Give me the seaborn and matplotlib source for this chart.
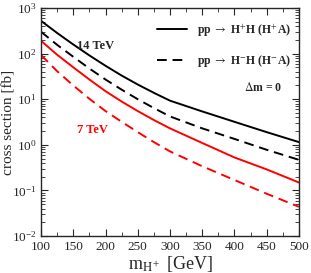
import numpy as np
import pandas as pd
import matplotlib
matplotlib.use("Agg")
import matplotlib.pyplot as plt
import seaborn as sns
from matplotlib.lines import Line2D
from matplotlib.ticker import LogLocator, MultipleLocator, NullFormatter

# ---------------------
# Data
# ---------------------
mass = [100, 125, 150, 175, 200, 225, 250, 275, 300, 350, 400, 450, 500]
xs_14_plus = [520, 282, 158, 91, 54, 33, 21, 13.8, 9.3, 5.4, 3.2, 1.9, 1.15]
xs_14_minus = [300, 155, 85, 47, 27, 16.2, 10, 6.4, 4.2, 2.3, 1.35, 0.78, 0.47]
xs_7_plus = [190, 94, 50, 27, 15, 8.9, 5.5, 3.5, 2.3, 1.1, 0.53, 0.29, 0.15]
xs_7_minus = [93, 41, 20, 10.2, 5.5, 3.2, 1.9, 1.15, 0.72, 0.34, 0.17, 0.085, 0.044]

sns.set_style("ticks")
plt.rcParams["font.family"] = ["Liberation Serif", "DejaVu Serif"]
plt.rcParams["mathtext.fontset"] = "stix"

fig = plt.figure(figsize=(3.11, 2.73), dpi=100)
ax = fig.add_axes([0.132, 0.135, 0.829, 0.836])

series = [
    (xs_14_plus, "black", "-"),
    (xs_14_minus, "black", (0, (5, 3))),
    (xs_7_plus, "red", "-"),
    (xs_7_minus, "red", (0, (5, 3))),
]
for vals, col, ls in series:
    df = pd.DataFrame({"m": mass, "xs": vals})
    sns.lineplot(data=df, x="m", y="xs", color=col, linestyle=ls,
                 linewidth=1.4, ax=ax)

ax.set_yscale("log")
ax.set_xlim(100, 500)
ax.set_ylim(1e-2, 1e3)

ax.xaxis.set_major_locator(MultipleLocator(50))
ax.xaxis.set_minor_locator(MultipleLocator(25))
ax.yaxis.set_major_locator(LogLocator(base=10, numticks=10))
ax.yaxis.set_minor_locator(LogLocator(base=10, subs=np.arange(2, 10), numticks=10))
ax.yaxis.set_minor_formatter(NullFormatter())

ax.tick_params(which="both", direction="in", top=True, right=True, labelsize=9.5)
ax.tick_params(which="major", length=5, width=0.8)
ax.tick_params(which="minor", length=3, width=0.6)
for s in ax.spines.values():
    s.set_linewidth(1.0)

ax.set_xlabel(r"m$_{\rm H^+}$ [GeV]", fontsize=13, labelpad=1)
ax.set_ylabel("cross section [fb]", fontsize=11)
ax.yaxis.set_label_coords(-0.125, 0.5)
ax.yaxis.label.set_va("center")

ax.text(185, 150, "14 TeV", fontsize=9, fontweight="bold", ha="center", va="center")
ax.text(180, 2.1, "7 TeV", fontsize=9, fontweight="bold", color="red",
        ha="center", va="center")

handles = [
    Line2D([], [], color="black", lw=1.4),
    Line2D([], [], color="black", lw=1.4, ls=(0, (5, 3))),
]
labels = [r"pp $\rightarrow$ H$^{+}$H (H$^{+}$A)",
          r"pp $\rightarrow$ H$^{-}$H (H$^{-}$A)"]
ax.legend(handles, labels, loc="upper right", frameon=False,
          prop={"size": 8.5, "weight": "bold"}, handlelength=2.6,
          labelspacing=1.2, bbox_to_anchor=(1.01, 0.985))
ax.text(0.935, 0.65, r"$\Delta$m = 0", transform=ax.transAxes, fontsize=8.5,
        fontweight="bold", ha="right", va="center")

plt.savefig("out.png", dpi=100)
